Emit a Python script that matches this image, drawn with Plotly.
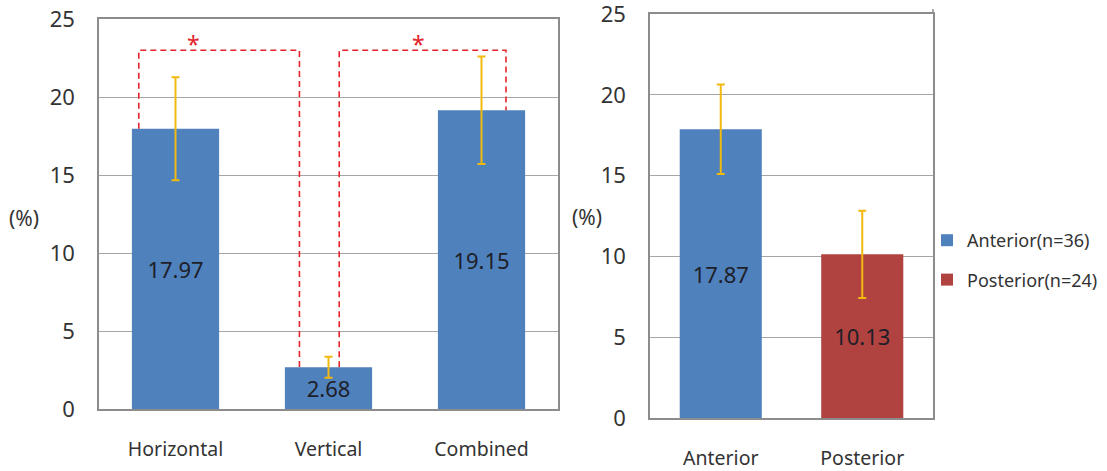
import plotly.graph_objects as go

# ---------------- data ----------------
panel1_categories = ["Horizontal", "Vertical", "Combined"]
panel1_values = [17.97, 2.68, 19.15]
panel1_errors = [3.30, 0.67, 3.45]

panel2_categories = ["Anterior", "Posterior"]
panel2_values = [17.87, 10.13]
panel2_errors = [2.77, 2.70]
panel2_legend_names = ["Anterior(n=36)", "Posterior(n=24)"]

y_ticks = [0, 5, 10, 15, 20, 25]
y_title = "(%)"

# significance brackets: pairs of category indices and bracket height (in %)
sig_pairs = [(0, 1), (1, 2)]
sig_label = "*"
bracket_height = 23.0

# ---------------- styles ----------------
BLUE = "#4F81BD"
RED = "#B0433F"
GOLD = "#F2B90F"
SIG_RED = "#E3242B"
GRID = "#A6A6A6"
AXIS = "#8C8C8C"
FONT = "Noto Sans"
TICK_COLOR = "#333333"
BAR_W = 0.57
# horizontal offsets of bracket legs relative to the bar centres
bracket_leg_offsets = [(-0.24, -0.19), (0.07, 0.16)]
# horizontal offset of the star relative to the bracket midpoint
star_offsets = [-0.165, -0.025]

W, H = 1107, 471


def px(x):
    return x / W


def py(y):
    return 1 - y / H


fig = go.Figure()

# left panel bars
fig.add_trace(go.Bar(
    x=list(range(len(panel1_categories))), y=panel1_values,
    width=BAR_W, marker=dict(color=BLUE, line=dict(width=0)),
    error_y=dict(type="data", array=panel1_errors, color=GOLD, thickness=2, width=4),
    text=[f"{v:.2f}" for v in panel1_values], textposition="inside",
    insidetextanchor="middle", constraintext="none",
    textfont=dict(family=FONT, size=22, color="#1E1E28"),
    showlegend=False, xaxis="x", yaxis="y", hoverinfo="skip",
))

# right panel bars (one trace per category for the legend)
for i, (cat, val, err, name, col) in enumerate(
        zip(panel2_categories, panel2_values, panel2_errors, panel2_legend_names, [BLUE, RED])):
    fig.add_trace(go.Bar(
        x=[i], y=[val], width=0.58, name=name, legendgroup=name,
        marker=dict(color=col, line=dict(width=0)),
        error_y=dict(type="data", array=[err], color=GOLD, thickness=2, width=4),
        text=[f"{val:.2f}"], textposition="inside",
        insidetextanchor="middle", constraintext="none",
        textfont=dict(family=FONT, size=22, color="#1E1E28"),
        xaxis="x2", yaxis="y2", hoverinfo="skip",
    ))

# significance brackets
for (a, b), (oa, ob), so in zip(sig_pairs, bracket_leg_offsets, star_offsets):
    xa = a + oa
    xb = b + ob
    fig.add_trace(go.Scatter(
        x=[xa, xa, xb, xb],
        y=[panel1_values[a], bracket_height, bracket_height, panel1_values[b]],
        mode="lines", line=dict(color=SIG_RED, width=1.6, dash="6px,4px"),
        showlegend=False, xaxis="x", yaxis="y", hoverinfo="skip",
    ))
    fig.add_annotation(
        x=(xa + xb) / 2 + so, y=bracket_height,
        xref="x", yref="y", text=sig_label, showarrow=False,
        yanchor="bottom", yshift=-12,
        font=dict(family=FONT, size=23, color=SIG_RED),
    )

axis_common = dict(showline=True, linecolor=AXIS, linewidth=1.5, mirror=True,
                   showgrid=False, zeroline=False, ticks="", automargin=False,
                   tickfont=dict(family=FONT, size=19.5, color=TICK_COLOR),
                   ticklabelstandoff=22, ticklabeloverflow="allow", fixedrange=True)
yaxis_common = dict(showline=True, linecolor=AXIS, linewidth=1.5, mirror=True,
                    showgrid=True, gridcolor=GRID, gridwidth=1.3, zeroline=False,
                    ticks="", range=[0, 25], tickvals=y_ticks, automargin=False,
                    tickfont=dict(family=FONT, size=22, color=TICK_COLOR),
                    ticklabelstandoff=18, ticklabeloverflow="allow", fixedrange=True)

fig.update_layout(
    width=W, height=H,
    margin=dict(l=0, r=0, t=0, b=0, autoexpand=False),
    paper_bgcolor="white", plot_bgcolor="white",
    barmode="overlay",
    xaxis=dict(domain=[px(99), px(558)], range=[-0.5, 2.5],
               tickvals=list(range(len(panel1_categories))), ticktext=panel1_categories,
               anchor="y", **axis_common),
    yaxis=dict(domain=[py(409), py(19)], anchor="x", **yaxis_common),
    xaxis2=dict(domain=[px(650), px(933)], range=[-0.5, 1.5],
                tickvals=list(range(len(panel2_categories))), ticktext=panel2_categories,
                anchor="y2", **axis_common),
    yaxis2=dict(domain=[py(418), py(14)], anchor="x2", **yaxis_common),
    legend=dict(x=px(927), y=py(222), xanchor="left", yanchor="top",
                font=dict(family=FONT, size=18, color="#333333"),
                traceorder="grouped", tracegroupgap=13, bgcolor="rgba(0,0,0,0)"),
    showlegend=True,
)

# right border of the right panel rises slightly above the frame
fig.add_shape(type="line", xref="paper", yref="paper",
              x0=px(933), x1=px(933), y0=py(14), y1=py(9),
              line=dict(color=AXIS, width=1.5))

for xc, yc in [(24, 218), (587, 217)]:
    fig.add_annotation(x=px(xc), y=py(yc), xref="paper", yref="paper", text=y_title,
                       showarrow=False, xanchor="center", yanchor="middle",
                       font=dict(family=FONT, size=21, color=TICK_COLOR))

fig.write_html("out.html", config={"displayModeBar": False},
               post_script="document.body.style.margin='0';document.body.style.overflow='hidden';")
